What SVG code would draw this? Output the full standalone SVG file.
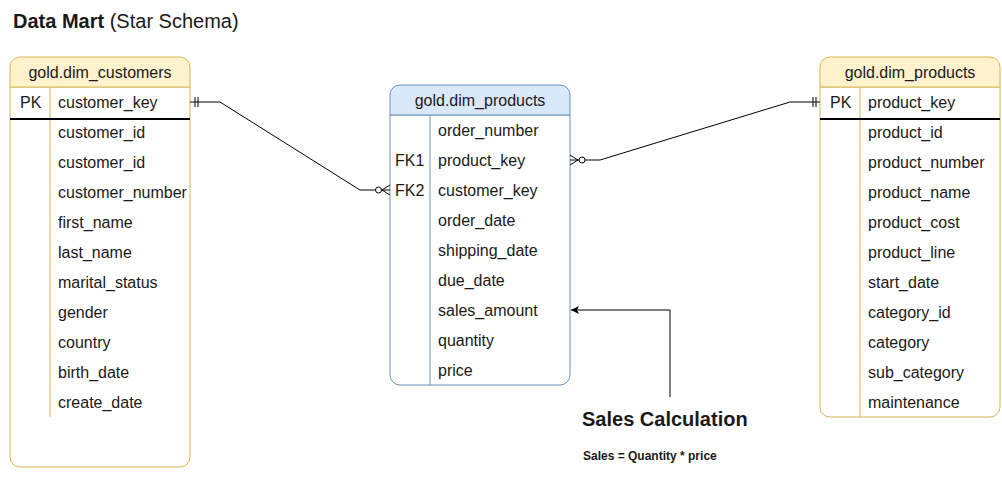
<svg xmlns="http://www.w3.org/2000/svg" width="1002" height="490" viewBox="0 0 1002 490">
<style>
text{font-family:"Liberation Sans",Arial,sans-serif;font-size:16px;fill:#1a1a1a}
.hd{text-anchor:middle}
.y{fill:#fff;stroke:#d6b656;stroke-width:1}
.yh{fill:#fff2cc;stroke:#d6b656;stroke-width:1}
.b{fill:#fff;stroke:#6c8ebf;stroke-width:1}
.bh{fill:#dae8fc;stroke:#6c8ebf;stroke-width:1}
.dy{stroke:#d6b656;stroke-width:1}
.db{stroke:#6c8ebf;stroke-width:1}
.pk{stroke:#000;stroke-width:2}
.c{fill:none;stroke:#000;stroke-width:1}
</style>
<defs>
<marker id="arr" markerWidth="10" markerHeight="10" refX="9" refY="5" orient="auto" markerUnits="userSpaceOnUse">
<path d="M1,1 L9,5 L1,9 L3,5 Z" fill="#000"/>
</marker>
</defs>
<text x="13" y="28" style="font-size:20px"><tspan font-weight="bold">Data Mart</tspan> (Star Schema)</text>

<g id="dim_customers">
<path class="y" d="M10,87 H190 V457 A10,10 0 0 1 180,467 H20 A10,10 0 0 1 10,457 Z"/>
<path class="yh" d="M20,57 H180 A10,10 0 0 1 190,67 V87 H10 V67 A10,10 0 0 1 20,57 Z"/>
<line class="dy" x1="50" y1="87" x2="50" y2="417"/>
<line class="pk" x1="10" y1="119" x2="190" y2="119"/>
<text class="hd" x="100" y="78">gold.dim_customers</text>
<text x="20" y="108">PK</text>
<text x="58" y="108">customer_key</text>
<text x="58" y="138">customer_id</text>
<text x="58" y="168">customer_id</text>
<text x="58" y="198">customer_number</text>
<text x="58" y="228">first_name</text>
<text x="58" y="258">last_name</text>
<text x="58" y="288">marital_status</text>
<text x="58" y="318">gender</text>
<text x="58" y="348">country</text>
<text x="58" y="378">birth_date</text>
<text x="58" y="408">create_date</text>
</g>

<g id="fact_sales">
<path class="b" d="M390,115 H570 V375 A10,10 0 0 1 560,385 H400 A10,10 0 0 1 390,375 Z"/>
<path class="bh" d="M400,85 H560 A10,10 0 0 1 570,95 V115 H390 V95 A10,10 0 0 1 400,85 Z"/>
<line class="db" x1="430" y1="115" x2="430" y2="385"/>
<text class="hd" x="480" y="106">gold.dim_products</text>
<text x="438" y="136">order_number</text>
<text x="395" y="166">FK1</text>
<text x="438" y="166">product_key</text>
<text x="395" y="196">FK2</text>
<text x="438" y="196">customer_key</text>
<text x="438" y="226">order_date</text>
<text x="438" y="256">shipping_date</text>
<text x="438" y="286">due_date</text>
<text x="438" y="316">sales_amount</text>
<text x="438" y="346">quantity</text>
<text x="438" y="376">price</text>
</g>

<g id="dim_products">
<path class="y" d="M820,87 H1000 V407 A10,10 0 0 1 990,417 H830 A10,10 0 0 1 820,407 Z"/>
<path class="yh" d="M830,57 H990 A10,10 0 0 1 1000,67 V87 H820 V67 A10,10 0 0 1 830,57 Z"/>
<line class="dy" x1="860" y1="87" x2="860" y2="417"/>
<line class="pk" x1="820" y1="119" x2="1000" y2="119"/>
<text class="hd" x="910" y="78">gold.dim_products</text>
<text x="830" y="108">PK</text>
<text x="868" y="108">product_key</text>
<text x="868" y="138">product_id</text>
<text x="868" y="168">product_number</text>
<text x="868" y="198">product_name</text>
<text x="868" y="228">product_cost</text>
<text x="868" y="258">product_line</text>
<text x="868" y="288">start_date</text>
<text x="868" y="318">category_id</text>
<text x="868" y="348">category</text>
<text x="868" y="378">sub_category</text>
<text x="868" y="408">maintenance</text>
</g>

<g id="sales_note">
<text x="582" y="426" style="font-size:20px;font-weight:bold">Sales Calculation</text>
<text x="583" y="460" style="font-size:12px;font-weight:bold">Sales = Quantity * price</text>
</g>

<g id="connectors">
<path class="c" d="M190,102 H220 L360,190 H390"/>
<line class="c" x1="195" y1="97" x2="195" y2="107"/>
<line class="c" x1="198" y1="97" x2="198" y2="107"/>
<circle cx="378.5" cy="190" r="3" fill="#fff" stroke="#000"/>
<path class="c" d="M390,185 L382,190 L390,195"/>

<path class="c" d="M570,160 H600 L790,102 H820"/>
<line class="c" x1="813" y1="97" x2="813" y2="107"/>
<line class="c" x1="816" y1="97" x2="816" y2="107"/>
<circle cx="582" cy="160" r="3" fill="#fff" stroke="#000"/>
<path class="c" d="M570,155 L578,160 L570,165"/>

<path class="c" d="M670,397 V310 H571" marker-end="url(#arr)"/>
</g>
</svg>
